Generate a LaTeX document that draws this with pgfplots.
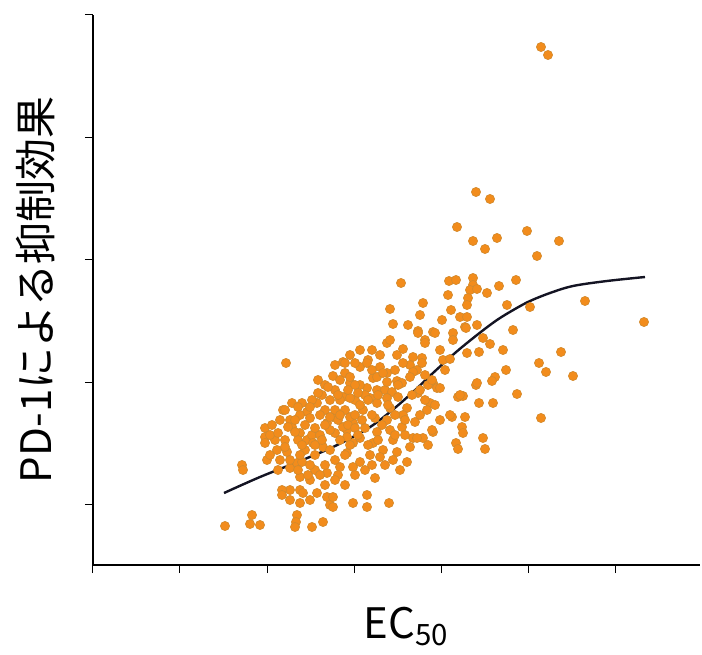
\documentclass[border=0pt]{standalone}
\usepackage{pgfplots}
\pgfplotsset{compat=1.18}
\usepackage{fontspec}
\setmainfont{Liberation Sans}
\newfontfamily\jp{Noto Sans CJK JP}
\definecolor{dotfill}{RGB}{242,140,28}
\definecolor{dotdraw}{RGB}{210,138,45}
\definecolor{curve}{RGB}{20,20,35}
\begin{document}
\begin{tikzpicture}
\useasboundingbox (-46.5pt,-44.5pt) rectangle (304.5pt,282.5pt);
\begin{axis}[
  scale only axis,
  width=303.5pt, height=275pt,
  xmin=93, xmax=700, ymin=0, ymax=550,
  axis lines=left,
  axis line style={-, line width=1.3pt, black},
  xtick={93,180,267,354,441,528,615},
  ytick={61,183,305,427,550},
  xticklabels={}, yticklabels={},
  tick align=outside,
  major tick length=4pt,
  tick style={line width=0.5pt, black},
  clip=false,
  xlabel={\jp\fontsize{21}{25}\selectfont EC\textsubscript{50}},
  ylabel={\jp\fontsize{21}{25}\selectfont PD-1による抑制効果},
  every axis x label/.style={at={(axis description cs:0.516,-0.112)}, anchor=center},
  every axis y label/.style={at={(axis description cs:-0.094,0.5)}, rotate=90, anchor=center},
]
\addplot[only marks, mark=*, mark size=2.3pt, mark options={fill=dotfill, draw=dotdraw, line width=0.3pt}] coordinates {
(541,518) (548,510) (476,373) (490,366) (457,338) (473,324) (485,316) (497,327)
(527,334) (559,324) (537,309) (449,284) (456,285) (473,287) (473,280) (470,275)
(477,276) (499,279) (516,285) (487,272) (448,270) (423,262) (468,267) (467,260)
(451,255) (420,250) (507,260) (530,258) (585,264) (644,243) (460,248) (467,248)
(477,240) (513,235) (453,232) (465,238) (453,225) (483,227) (490,221) (479,213)
(503,215) (467,212) (561,213) (539,202) (546,193) (573,189) (506,195) (495,188)
(492,184) (476,180) (517,171) (458,168) (463,169) (479,162) (493,162) (452,148)
(465,148) (541,147) (462,138) (463,132) (483,127) (485,116) (442,245) (433,233)
(466,237) (440,215) (443,205) (450,206) (433,182) (437,177) (430,162) (450,150)
(433,133)
(401,282) (390,256) (393,241) (408,240) (418,234) (425,225) (387,222) (403,216)
(397,210) (413,208) (422,207) (368,205) (380,198) (410,200) (417,195) (387,192)
(397,184) (402,182) (373,187) (360,198) (367,177) (377,175) (385,175) (428,180)
(460,170) (477,182) (418,172)
(418,232) (435,232) (425,222) (403,202) (422,202) (413,193) (432,185) (440,177)
(343,203) (355,202) (367,202) (372,195) (377,188) (383,192) (387,183) (398,180)
(392,173) (360,180) (350,182) (345,192) (355,165) (343,168) (363,155) (377,162)
(387,167) (398,168) (412,170) (420,175) (425,165) (427,155) (407,157) (390,157)
(375,147) (387,145) (403,150) (353,142) (347,135) (365,137) (377,133) (390,135)
(402,138) (415,143) (413,127) (423,127) (428,120) (432,135) (353,122) (373,122)
(383,115) (393,125) (397,113) (347,112)
(286,202) (333,189) (345,202) (350,188) (322,170) (330,165) (340,165) (317,162)
(312,165) (302,162) (292,162) (283,155) (290,145) (292,138) (307,153) (310,147)
(300,132) (298,125) (307,125) (312,130) (313,122) (327,142) (333,148) (343,138)
(350,148) (335,132) (347,128) (265,137) (265,128) (265,122) (277,115) (287,113)
(267,105) (323,118) (330,115)
(242,100) (243,95) (278,95) (290,97) (297,102) (300,88) (290,75) (282,75)
(282,70) (300,62) (310,65) (317,72) (327,68) (330,60) (297,50) (296,43)
(295,38) (252,50) (250,41) (260,40) (225,39) (312,38) (323,43) (302,103)
(315,95) (327,92) (285,155) (298,158)
(367,70) (353,62) (367,58) (389,62) (333,68) (333,58) (407,103) (375,87)
(365,95) (353,98) (340,98) (380,108) (393,105) (417,127)
(325,155) (335,155) (345,155) (338,145) (348,140) (355,150) (330,135) (340,125)
(320,130) (350,120) (360,127) (355,137) (325,140) (315,137) (345,110) (335,105)
(325,100) (315,110) (305,115) (360,160) (370,167) (365,170) (350,167) (335,175)
(325,180) (318,185) (340,185) (355,180) (305,140) (295,133) (285,125) (275,125)
(270,110) (280,105) (290,105) (300,110) (310,100) (320,90) (338,90) (345,80)
(325,80) (310,85) (300,75) (290,65) (303,72)
(370,110) (360,103) (385,100) (400,95) (456,122) (458,116)
(318,172) (328,178) (338,170) (348,175) (358,172) (368,165) (378,170) (388,160)
(395,150) (405,145) (372,150) (382,140) (395,130) (362,145) (358,130) (368,120)
(378,125) (340,150) (330,148) (320,150) (310,158) (300,150) (295,145) (288,138)
(280,145) (272,140) (270,130) (278,132) (302,120) (315,120) (322,125) (285,118)
(298,95) (308,90) (335,85) (355,90) (372,100) (405,130) (410,118) (420,150)
(435,160) (440,145) (445,195) (425,190) (410,188) (395,195) (380,210) (390,225)
(372,215) (360,215) (350,210) (335,200)
};
\addplot[curve, line width=1.2pt, smooth, tension=0.55] coordinates {
(224,72) (260,88) (300,104) (333,118) (367,136) (390,153) (413,173) (433,192)
(455,212) (477,230) (497,245) (515,256) (530,264) (550,272) (573,279) (607,284)
(645,288)
};
\end{axis}
\end{tikzpicture}
\end{document}
